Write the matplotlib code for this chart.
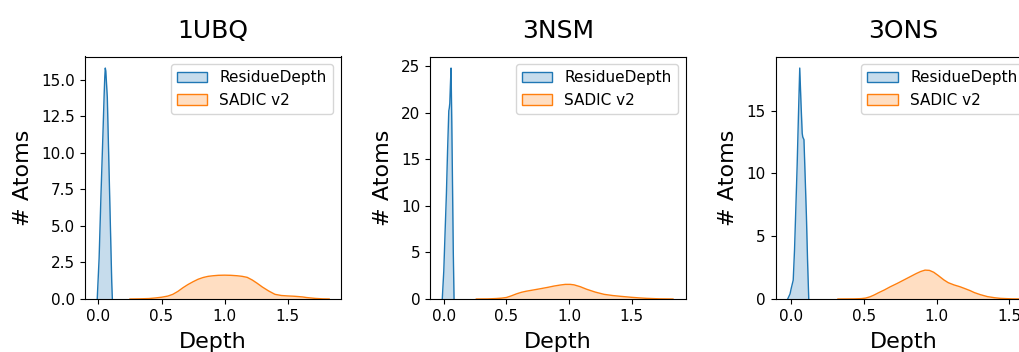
import matplotlib
matplotlib.use("Agg")
import matplotlib.pyplot as plt
from matplotlib.patches import Patch
from matplotlib.colors import to_rgba
from matplotlib.ticker import MultipleLocator

titles = ["1UBQ", "3NSM", "3ONS"]
labels = ["ResidueDepth", "SADIC v2"]

# density curves (x = depth, y = density)
rd_x_1 = [-0.01, 0.005, 0.02, 0.035, 0.045, 0.050, 0.054, 0.058, 0.062, 0.070, 0.080, 0.090, 0.100, 0.105, 0.110]
rd_y_1 = [0, 2.8, 7.2, 11.2, 14.0, 15.2, 15.8, 15.6, 15.0, 13.8, 10.2, 6.6, 3.0, 1.2, 0]
sd_x_1 = [0.25, 0.32, 0.40, 0.45, 0.50, 0.55, 0.59, 0.63, 0.67, 0.71, 0.75, 0.79, 0.83, 0.87, 0.91, 0.95, 1.00, 1.05, 1.10, 1.14, 1.18, 1.22,
          1.26, 1.30, 1.35, 1.40, 1.45, 1.50, 1.55, 1.58, 1.62, 1.65, 1.72, 1.78, 1.83]
sd_y_1 = [0, 0.01, 0.03, 0.07, 0.12, 0.2, 0.32, 0.52, 0.77, 0.99, 1.18, 1.35, 1.47, 1.55, 1.59, 1.62, 1.63, 1.62, 1.59, 1.55, 1.48, 1.30,
          1.07, 0.82, 0.55, 0.32, 0.24, 0.21, 0.19, 0.17, 0.14, 0.10, 0.04, 0.01, 0]

rd_x_2 = [-0.012, 0.0, 0.010, 0.021, 0.030, 0.040, 0.044, 0.048, 0.053, 0.058, 0.064, 0.070, 0.076, 0.082]
rd_y_2 = [0, 3.0, 7.0, 11.3, 15.8, 20.2, 20.5, 21.0, 23.0, 24.8, 19.0, 12.0, 5.0, 0]
sd_x_2 = [0.26, 0.35, 0.42, 0.46, 0.50, 0.54, 0.58, 0.62, 0.66, 0.72, 0.77, 0.83, 0.88, 0.93, 0.97, 1.01, 1.04, 1.09, 1.14, 1.21, 1.28,
          1.35, 1.41, 1.50, 1.56, 1.62, 1.72, 1.83]
sd_y_2 = [0, 0.01, 0.05, 0.09, 0.16, 0.34, 0.55, 0.72, 0.84, 0.98, 1.10, 1.25, 1.39, 1.50, 1.57, 1.57, 1.52, 1.32, 1.05, 0.74, 0.50,
          0.37, 0.29, 0.18, 0.12, 0.07, 0.02, 0]

rd_x_3 = [-0.026, -0.010, -0.002, 0.012, 0.021, 0.030, 0.039, 0.048, 0.057, 0.066, 0.074, 0.078, 0.086, 0.095, 0.103, 0.111, 0.119]
rd_y_3 = [0, 0.4, 0.83, 1.5, 3.9, 7.2, 10.6, 14.6, 18.4, 15.5, 13.2, 12.9, 12.7, 9.5, 6.6, 3.0, 0]
sd_x_3 = [0.32, 0.43, 0.48, 0.51, 0.54, 0.57, 0.60, 0.64, 0.68, 0.73, 0.78, 0.82, 0.86, 0.89, 0.92, 0.95, 0.98, 1.01, 1.05, 1.08, 1.12,
          1.16, 1.19, 1.23, 1.26, 1.30, 1.35, 1.40, 1.44, 1.52, 1.59]
sd_y_3 = [0, 0.01, 0.03, 0.07, 0.17, 0.32, 0.50, 0.72, 0.97, 1.25, 1.55, 1.79, 2.03, 2.19, 2.30, 2.28, 2.13, 1.88, 1.52, 1.30, 1.12,
          0.98, 0.85, 0.67, 0.51, 0.35, 0.19, 0.10, 0.05, 0.01, 0]

xlims = [(-0.107, 1.92), (-0.11, 1.93), (-0.11, 1.65)]
ystep = [2.5, 5, 5]

curves = [
    ((rd_x_1, rd_y_1), (sd_x_1, sd_y_1)),
    ((rd_x_2, rd_y_2), (sd_x_2, sd_y_2)),
    ((rd_x_3, rd_y_3), (sd_x_3, sd_y_3)),
]
colors = ["#1f77b4", "#ff7f0e"]

W, H = 1019, 352
fig = plt.figure(figsize=(W / 100, H / 100), dpi=100)
lefts = [85, 430, 775.5]
for i in range(3):
    ax = fig.add_axes([lefts[i] / W, 1 - 299 / H, 255.5 / W, 242.5 / H])
    top = 0
    for (x, y), c in zip(curves[i], colors):
        ax.fill_between(x, y, color=c, alpha=0.25, linewidth=0)
        ax.plot(x, y, color=c, lw=1)
        top = max(top, max(y))
    ax.set_xlim(*xlims[i])
    ax.set_ylim(0, top * 1.05)
    ax.yaxis.set_major_locator(MultipleLocator(ystep[i]))
    ax.set_title(titles[i], fontsize=18, pad=13)
    ax.set_xlabel("Depth", fontsize=16, labelpad=6)
    ax.set_ylabel("# Atoms", fontsize=16, labelpad=6)
    ax.tick_params(labelsize=11)
    handles = [Patch(facecolor=to_rgba(c, 0.25), edgecolor=c) for c in colors]
    ax.legend(handles, labels, loc="upper right", fontsize=11)

fig.savefig("out.png", dpi=100)
